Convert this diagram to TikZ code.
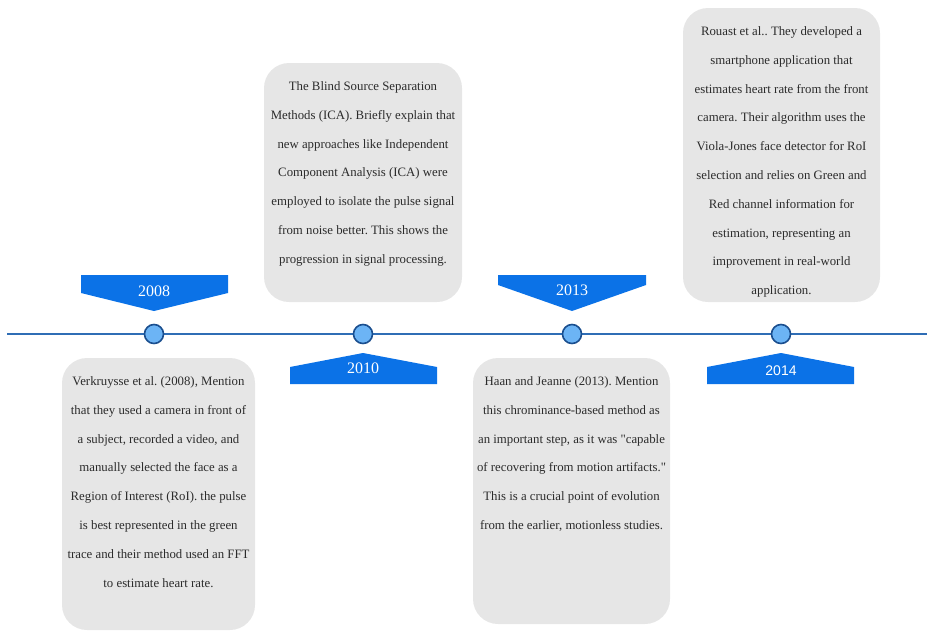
\documentclass[tikz,border=0pt]{standalone}
\usepackage{fontspec}
\setmainfont{Liberation Serif}
\newfontfamily\arialfont{Liberation Sans}
\definecolor{boxgray}{HTML}{E6E6E6}
\definecolor{txtgray}{HTML}{2B2B2B}
\definecolor{lineblue}{HTML}{2F6DB5}
\definecolor{dotfill}{HTML}{6CB4F5}
\definecolor{dotdraw}{HTML}{1B4F8F}
\definecolor{markblue}{HTML}{0B72E7}
\frenchspacing
\begin{document}
\begin{tikzpicture}[x=1pt,y=-1pt,
  card/.style={fill=boxgray, rounded corners=25pt, inner sep=0pt},
  cardtext/.style={anchor=north, align=center, inner sep=0pt, text=txtgray,
    font=\fontsize{12.8}{28.8}\selectfont},
  dot/.style={circle, fill=dotfill, draw=dotdraw, line width=1.6pt, minimum size=19pt, inner sep=0pt},
  marker/.style={fill=markblue},
  yeartext/.style={text=white, font=\fontsize{16}{18}\selectfont, inner sep=0pt},
  tl/.style={draw=lineblue, line width=1.6pt}]
\useasboundingbox (0,0) rectangle (927,630);

% cards
\node[card, minimum width=193pt, minimum height=272pt] (b1) at (158.5,494) {};
\node[card, minimum width=198pt, minimum height=239pt] (b2) at (363,182.5) {};
\node[card, minimum width=197pt, minimum height=266pt] (b3) at (571.5,491) {};
\node[card, minimum width=197pt, minimum height=294pt] (b4) at (781.5,155) {};

\node[cardtext] (t1) at (158.5,376.5) {Verkruysse et al. (2008), Mention\\that they used a camera in front of\\a subject, recorded a video, and\\manually selected the face as a\\Region of Interest (RoI). the pulse\\is best represented in the green\\trace and their method used an FFT\\to estimate heart rate.};
\node[cardtext] (t2) at (363,81.5) {The Blind Source Separation\\Methods (ICA). Briefly explain that\\new approaches like Independent\\Component Analysis (ICA) were\\employed to isolate the pulse signal\\from noise better. This shows the\\progression in signal processing.};
\node[cardtext] (t3) at (571.5,376.5) {Haan and Jeanne (2013). Mention\\this chrominance-based method as\\an important step, as it was \textquotedbl capable\\of recovering from motion artifacts.\textquotedbl\\This is a crucial point of evolution\\from the earlier, motionless studies.};
\node[cardtext] (t4) at (781.5,26.5) {Rouast et al.. They developed a\\smartphone application that\\estimates heart rate from the front\\camera. Their algorithm uses the\\Viola-Jones face detector for RoI\\selection and relies on Green and\\Red channel information for\\estimation, representing an\\improvement in real-world\\application.};

% timeline
\coordinate (L) at (7,334);
\coordinate (R) at (927,334);
\draw[tl] (L) -- (R);
\node[dot] (c1) at (154,334) {};
\node[dot] (c2) at (363,334) {};
\node[dot] (c3) at (572,334) {};
\node[dot] (c4) at (781,334) {};

% year markers
\fill[marker] (81,275) -- (228,275) -- (228,293) -- (154,311) -- (81,293) -- cycle;
\fill[marker] (290,384) -- (437,384) -- (437,367) -- (363,353) -- (290,367) -- cycle;
\fill[marker] (498,275) -- (646,275) -- (646,285) -- (572,311) -- (498,285) -- cycle;
\fill[marker] (707,384) -- (854,384) -- (854,367) -- (781,353) -- (707,367) -- cycle;

\node[yeartext] (y1) at (154,291) {2008};
\node[yeartext] (y2) at (363,368) {2010};
\node[yeartext] (y3) at (572,290) {2013};
\node[yeartext, font=\arialfont\fontsize{14}{16}\selectfont] (y4) at (781,371) {2014};
\end{tikzpicture}
\end{document}
